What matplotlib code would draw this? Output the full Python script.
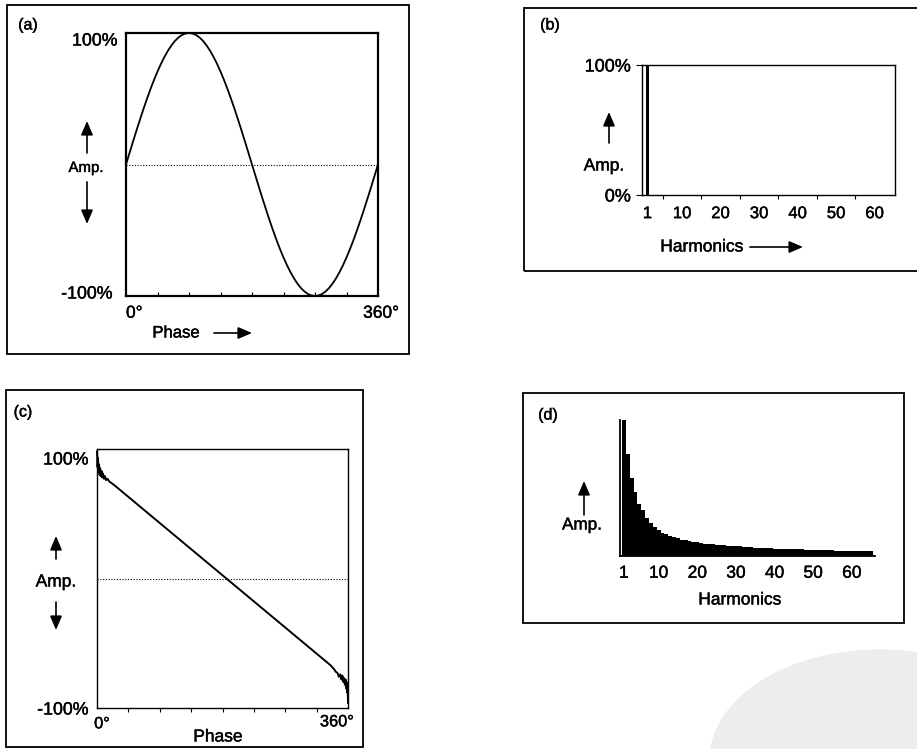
import numpy as np
import matplotlib
matplotlib.use('Agg')
import matplotlib.pyplot as plt
import matplotlib.patheffects as pe
from matplotlib.patches import Rectangle, FancyArrowPatch, Ellipse
from matplotlib.transforms import ScaledTranslation

plt.rcParams['font.family'] = ['Liberation Sans', 'DejaVu Sans']

W, H = 917, 749

# (a) one period of the sine wave, read every 5 degrees (amplitude in %)
SINE_PHASE = list(range(0, 361, 5))
SINE_AMP = [0, 8.7, 17.4, 25.9, 34.2, 42.3, 50, 57.4, 64.3, 70.7, 76.6, 81.9,
            86.6, 90.6, 94, 96.6, 98.5, 99.6, 100,
            99.6, 98.5, 96.6, 94, 90.6, 86.6, 81.9, 76.6, 70.7, 64.3, 57.4,
            50, 42.3, 34.2, 25.9, 17.4, 8.7, 0,
            -8.7, -17.4, -25.9, -34.2, -42.3, -50, -57.4, -64.3, -70.7, -76.6,
            -81.9, -86.6, -90.6, -94, -96.6, -98.5, -99.6, -100,
            -99.6, -98.5, -96.6, -94, -90.6, -86.6, -81.9, -76.6, -70.7, -64.3,
            -57.4, -50, -42.3, -34.2, -25.9, -17.4, -8.7, 0]

# (b) spectrum of the sine: only the fundamental
B_HARM = [1]
B_AMP = [100]

# (c) sawtooth built from 64 harmonics, ringing near both ends
SAW_PHASE = [0, 0.8, 1.5, 2.2, 3, 3.8, 4.6, 5.5, 6.5, 7.5, 8.7, 10, 11.5, 13, 15,
             17.5, 20, 25, 335, 340, 342.5, 345, 347, 349, 350.5, 352, 353.3,
             354.5, 355.5, 356.5, 357.3, 358, 358.8, 359.5, 360]
SAW_AMP = [98, 86, 93, 82, 88, 80, 85, 79, 83, 78, 81, 77, 79, 76, 77,
           75, 74, 72, -67, -70, -72, -73, -76, -74, -78, -75, -80,
           -77, -82, -78, -85, -80, -88, -84, -96]

# (d) harmonic amplitudes of the sawtooth (% of the fundamental)
D_AMP = [100, 75, 57, 47, 38, 34, 28, 24, 21, 19, 17, 16, 15, 14, 13, 12,
         11.5, 11, 10.5, 10, 9.5, 9, 8.8, 8.5, 8.2, 8, 7.8, 7.6, 7.4, 7.2,
         7, 6.8, 6.6, 6.4, 6.2, 6, 5.9, 5.7, 5.6, 5.5, 5.4, 5.3, 5.2, 5.1,
         5, 4.9, 4.8, 4.7, 4.6, 4.5, 4.4, 4.3, 4.2, 4.2, 4.1, 4, 4, 3.9,
         3.9, 3.8, 3.8, 3.7, 3.6, 3.5, 3.4]
D_HARM = list(range(1, len(D_AMP) + 1))

HARM_TICKS = [1, 10, 20, 30, 40, 50, 60]
HARM_LABELS = ['1', '10', '20', '30', '40', '50', '60']
PHASE_TICKS = [0, 360]
PHASE_LABELS = ['0°', '360°']
AMP_TICKS = [-100, 100]
AMP_LABELS = ['-100%', '100%']
B_TICKS = [0, 100]
B_LABELS = ['0%', '100%']

# scanned print looks a little heavier than plain regular weight
INK = [pe.withStroke(linewidth=0.3, foreground='black')]

fig = plt.figure(figsize=(W / 100, H / 100), dpi=100)


def px_axes(l, t, r, b):
    ax = fig.add_axes([l / W, 1 - b / H, (r - l) / W, (b - t) / H])
    ax.set_facecolor('none')
    return ax


def ftext(x, y, s, size=11, ha='center'):
    fig.text(x / W, 1 - y / H, s, fontsize=size, ha=ha, va='center',
             path_effects=INK)


def farrow(x0, y0, x1, y1):
    fig.add_artist(FancyArrowPatch((x0 / W, 1 - y0 / H), (x1 / W, 1 - y1 / H),
                                   transform=fig.transFigure,
                                   arrowstyle='-|>,head_length=0.7,head_width=0.3',
                                   mutation_scale=12, lw=1.2, color='black',
                                   shrinkA=0, shrinkB=0))


def frame(l, t, r, b):
    fig.add_artist(Rectangle((l / W, 1 - b / H), (r - l) / W, (b - t) / H,
                             transform=fig.transFigure, fill=False,
                             lw=1.3, ec='black'))


def shift(label, dx, dy):
    # move a tick label by pixels
    label.set_transform(label.get_transform() +
                        ScaledTranslation(dx / 100, -dy / 100, fig.dpi_scale_trans))


def ink_ticks(ax):
    for lab in ax.get_xticklabels() + ax.get_yticklabels():
        lab.set_path_effects(INK)


# watermark blob from the scan
fig.add_artist(Ellipse((880 / W, 1 - 760 / H), 340 / W, 220 / H,
                       transform=fig.transFigure, color='#ededed', zorder=-5))

# outer frames
frame(7, 5, 409, 354)
frame(524, 8, 925, 271)
frame(6, 390, 363, 747)
frame(523, 393, 904, 623)

# ---- (a) sine wave
ax = px_axes(126, 33, 378, 296)
ax.plot(SINE_PHASE, SINE_AMP, color='black', lw=1.3, clip_on=False)
ax.axhline(0, color='black', lw=0.8, ls=(0, (1, 1.5)))
ax.set_xlim(0, 360)
ax.set_ylim(-100, 100)
ax.set_xticks(PHASE_TICKS, PHASE_LABELS)
ax.set_xticks(np.arange(45, 360, 45), minor=True)
ax.set_yticks(AMP_TICKS, AMP_LABELS)
ax.tick_params(axis='x', which='major', length=0, pad=7, labelsize=12.5)
ax.tick_params(axis='y', which='major', length=0, pad=6, labelsize=12.8)
ax.tick_params(axis='x', which='minor', direction='in', length=3, width=0.8)
for s in ax.spines.values():
    s.set_linewidth(1.6)
xl = ax.get_xticklabels()
xl[0].set_horizontalalignment('left')
shift(xl[1], 3, 0)
yl = ax.get_yticklabels()
shift(yl[0], -5, -4)
shift(yl[1], 0, 6)
ink_ticks(ax)
ftext(28, 25, '(a)', 11.5)
ftext(86, 168, 'Amp.', 10.8)
farrow(87, 153, 87, 121)
farrow(87, 182, 87, 224)
ftext(176, 333, 'Phase', 12)
farrow(214, 333, 252, 333)

# ---- (b) spectrum of sine
ax = px_axes(642, 65, 895, 195)
ax.bar(B_HARM, B_AMP, width=0.9, color='black', lw=0)
ax.set_xlim(-0.4, 65.3)
ax.set_ylim(0, 100)
ax.set_xticks(HARM_TICKS, HARM_LABELS)
ax.set_xticks(np.arange(5, 61, 5), minor=True)
ax.set_yticks(B_TICKS, B_LABELS)
ax.tick_params(axis='x', which='major', length=0, pad=8, labelsize=12)
ax.tick_params(axis='x', which='minor', direction='out', length=3, width=0.8)
ax.tick_params(axis='y', length=4, width=0.8, pad=4, labelsize=13)
for s in ax.spines.values():
    s.set_linewidth(1.0)
ink_ticks(ax)
ftext(550, 25, '(b)', 11.5)
ftext(604, 166, 'Amp.', 12.5)
farrow(609, 143, 609, 112)
ftext(702, 247, 'Harmonics', 12.5)
farrow(750, 247, 803, 247)

# ---- (c) sawtooth wave
ax = px_axes(97, 449, 348, 708)
ax.plot(SAW_PHASE, SAW_AMP, color='black', lw=1.4, clip_on=False)
ax.axhline(0, color='black', lw=0.8, ls=(0, (1, 1.5)))
ax.set_xlim(0, 360)
ax.set_ylim(-100, 100)
ax.set_xticks(PHASE_TICKS, PHASE_LABELS)
ax.set_xticks(np.arange(45, 360, 45), minor=True)
ax.set_yticks(AMP_TICKS, AMP_LABELS)
ax.tick_params(axis='x', which='major', length=0, pad=6, labelsize=11.8)
ax.tick_params(axis='y', which='major', length=0, pad=6, labelsize=12.8)
ax.tick_params(axis='x', which='minor', direction='out', length=3, width=0.8)
for s in ax.spines.values():
    s.set_linewidth(1.0)
xl = ax.get_xticklabels()
shift(xl[0], 5, 0)
shift(xl[1], -11, -2)
yl = ax.get_yticklabels()
shift(yl[1], 0, 9)
ink_ticks(ax)
ftext(23, 412, '(c)', 11.5)
ftext(56, 582, 'Amp.', 12.5)
farrow(56, 559, 56, 536)
farrow(56, 602, 56, 630)
ftext(218, 737, 'Phase', 12.5)

# ---- (d) spectrum of sawtooth
ax = px_axes(620, 420, 875, 556)
ax.bar(D_HARM, D_AMP, width=1.0, color='black', lw=0)
ax.set_xlim(0, 66)
ax.set_ylim(0, 100)
ax.set_xticks(HARM_TICKS, HARM_LABELS)
ax.set_yticks([])
ax.tick_params(axis='x', length=0, pad=7, labelsize=12.5)
ax.spines['top'].set_visible(False)
ax.spines['right'].set_visible(False)
ax.spines['left'].set_linewidth(1.3)
ax.spines['bottom'].set_linewidth(1.3)
ink_ticks(ax)
ftext(548, 415, '(d)', 11.5)
ftext(582, 525, 'Amp.', 12.3)
farrow(584, 515, 584, 481)
ftext(740, 600, 'Harmonics', 12.5)

fig.savefig('out.png', dpi=100)
